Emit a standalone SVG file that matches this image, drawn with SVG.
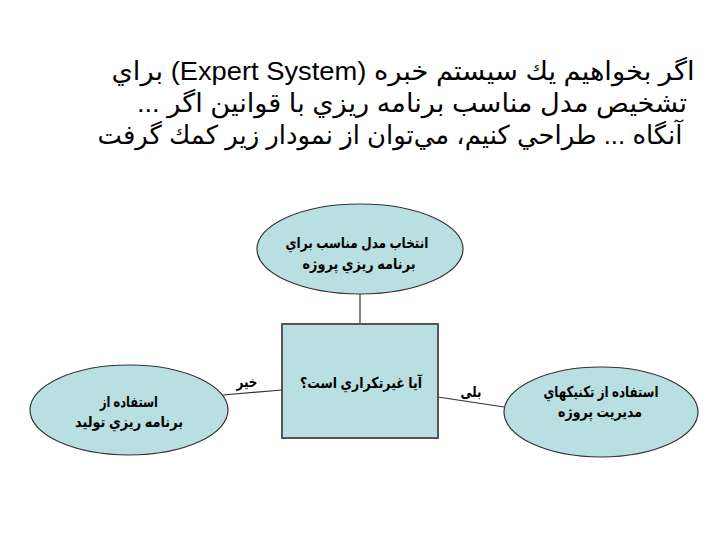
<svg xmlns="http://www.w3.org/2000/svg" width="720" height="540" viewBox="0 0 720 540">
<style>
.title{font-family:"Liberation Sans","DejaVu Sans",sans-serif;font-size:26px;fill:#000;}
.lbl{font-family:"Liberation Sans","DejaVu Sans",sans-serif;font-size:15px;font-weight:bold;fill:#000;}
.node{fill:#b9dfe3;stroke:#333;stroke-width:1.2;}
.box{fill:#b9dfe3;stroke:#555;stroke-width:2;}
.conn line{stroke:#333;stroke-width:1.2;}
</style>
<rect width="720" height="540" fill="#fff"/>
<g id="title">
<text class="title" x="403" y="80" text-anchor="middle" direction="rtl" textLength="583" lengthAdjust="spacingAndGlyphs">اگر بخواهيم يك سيستم خبره (Expert System) براي</text>
<text class="title" x="412" y="112" text-anchor="middle" direction="rtl" textLength="550" lengthAdjust="spacingAndGlyphs">تشخيص مدل مناسب برنامه ريزي با قوانين اگر ...</text>
<text class="title" x="390" y="144" text-anchor="middle" direction="rtl" textLength="585" lengthAdjust="spacingAndGlyphs">آنگاه ... طراحي كنيم، مي‌توان از نمودار زير كمك گرفت</text>
</g>
<g class="conn" id="connectors">
<line x1="360" y1="293" x2="360" y2="324"/>
<line x1="282" y1="390" x2="223" y2="395"/>
<line x1="438" y1="397" x2="504" y2="407"/>
<text class="lbl" x="247" y="387" text-anchor="middle" direction="rtl" textLength="21" lengthAdjust="spacingAndGlyphs">خير</text>
<text class="lbl" x="471" y="397" text-anchor="middle" direction="rtl" textLength="21" lengthAdjust="spacingAndGlyphs">بلى</text>
</g>
<g id="node-top">
<ellipse class="node" cx="360" cy="249" rx="103" ry="45"/>
<text class="lbl" x="357" y="248" text-anchor="middle" direction="rtl" textLength="143" lengthAdjust="spacingAndGlyphs">انتخاب مدل مناسب براي</text>
<text class="lbl" x="359" y="269" text-anchor="middle" direction="rtl" textLength="113" lengthAdjust="spacingAndGlyphs">برنامه ريزي پروژه</text>
</g>
<g id="node-decision">
<rect class="box" x="282" y="324" width="156" height="114"/>
<text class="lbl" x="361" y="388" text-anchor="middle" direction="rtl" textLength="122" lengthAdjust="spacingAndGlyphs">آيا غيرتكراري است؟</text>
</g>
<g id="node-left">
<ellipse class="node" cx="129" cy="410" rx="99" ry="45"/>
<text class="lbl" x="129" y="407" text-anchor="middle" direction="rtl" textLength="58" lengthAdjust="spacingAndGlyphs">استفاده از</text>
<text class="lbl" x="129" y="427" text-anchor="middle" direction="rtl" textLength="108" lengthAdjust="spacingAndGlyphs">برنامه ريزي توليد</text>
</g>
<g id="node-right">
<ellipse class="node" cx="601" cy="412" rx="97" ry="45"/>
<text class="lbl" x="601" y="397" text-anchor="middle" direction="rtl" textLength="115" lengthAdjust="spacingAndGlyphs">استفاده از تكنيكهاي</text>
<text class="lbl" x="600" y="417" text-anchor="middle" direction="rtl" textLength="84" lengthAdjust="spacingAndGlyphs">مديريت پروژه</text>
</g>
</svg>
